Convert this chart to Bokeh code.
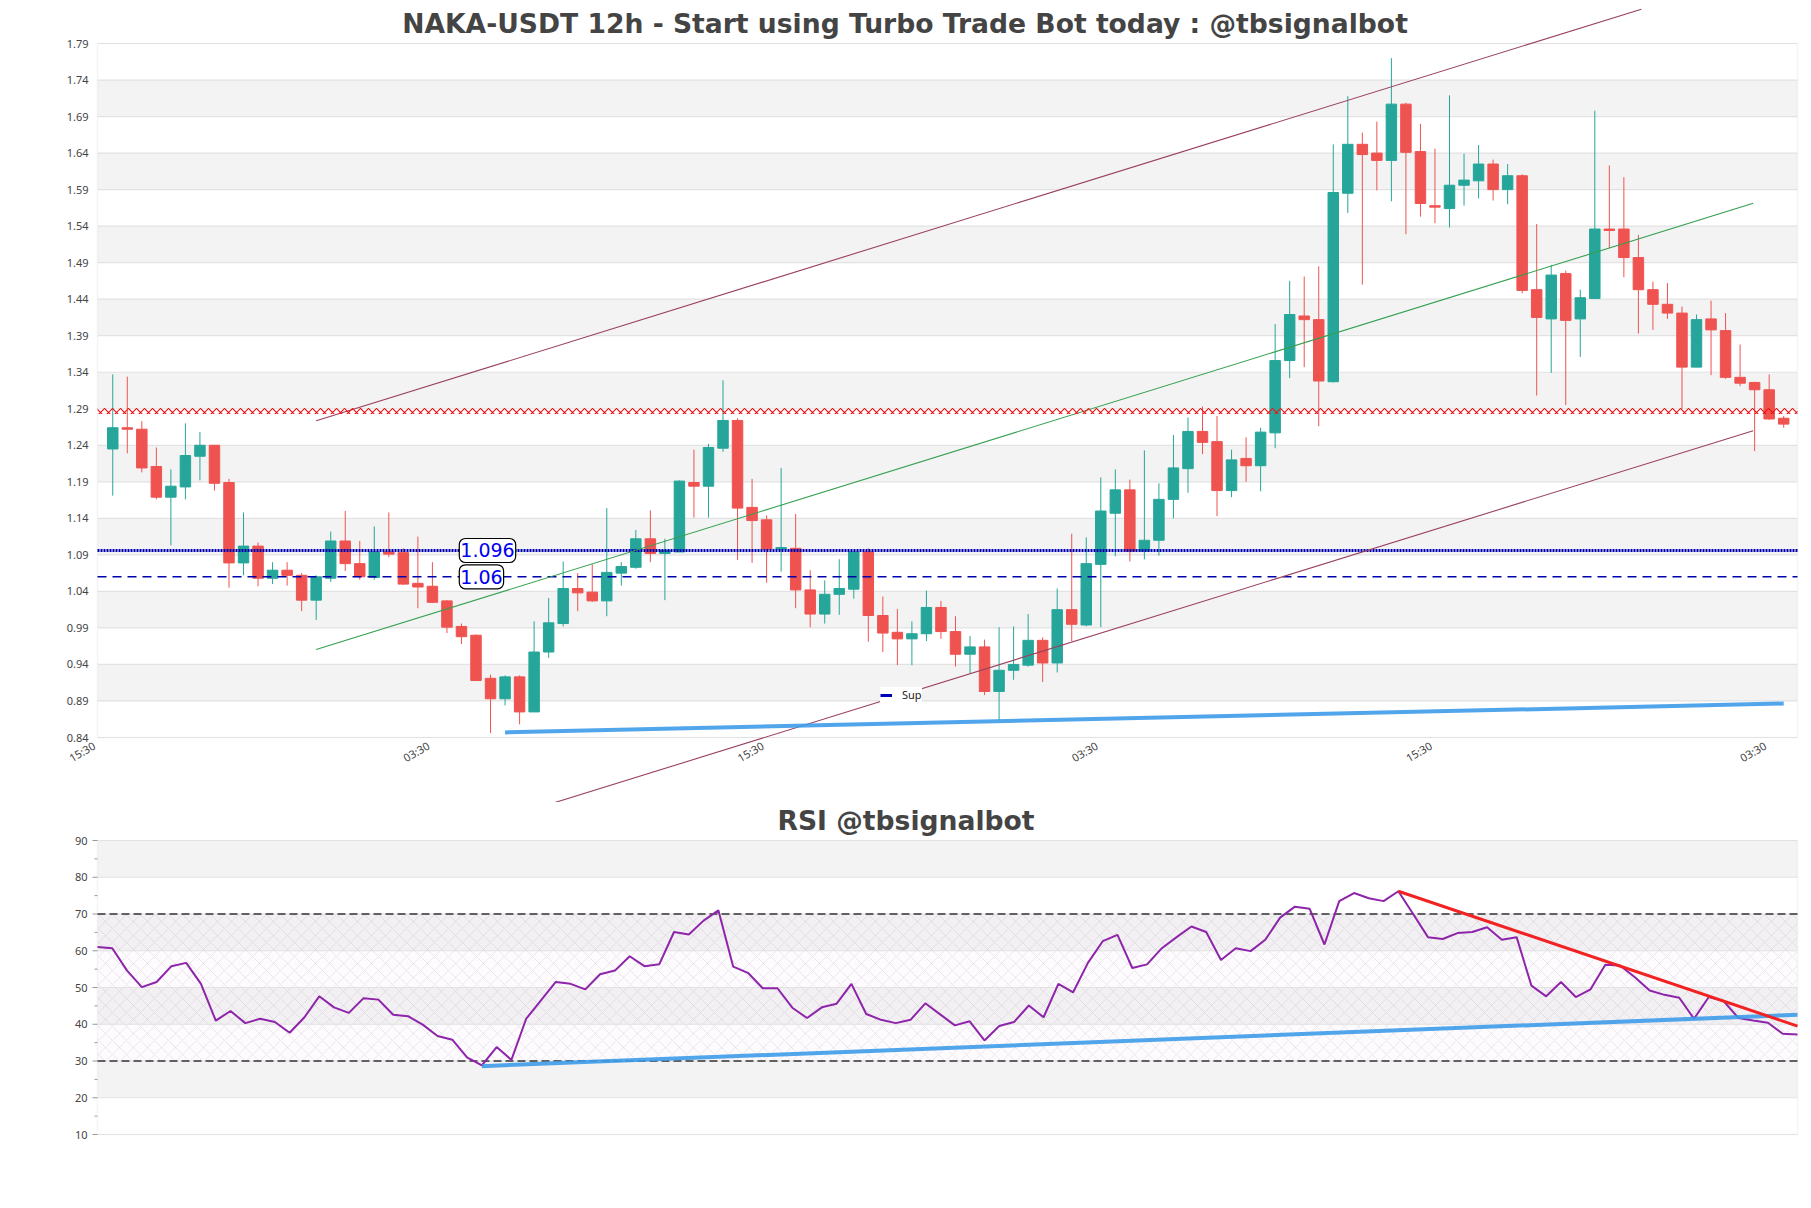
import math
from bokeh.plotting import figure
from bokeh.layouts import column
from bokeh.models import (ColumnDataSource, BoxAnnotation, Label, Legend, LegendItem, Range1d)
from bokeh.embed import file_html
from bokeh.resources import INLINE

# ---------------- data ----------------
opens = [1.235, 1.264, 1.262, 1.211, 1.169, 1.183, 1.225, 1.240, 1.189, 1.079,
         1.102, 1.058, 1.069, 1.062, 1.028, 1.058, 1.109, 1.078, 1.059, 1.094,
         1.093, 1.051, 1.047, 1.027, 0.992, 0.980, 0.921, 0.893, 0.923, 0.875,
         0.957, 0.996, 1.044, 1.039, 1.027, 1.065, 1.073, 1.112, 1.092, 1.094,
         1.189, 1.184, 1.236, 1.274, 1.155, 1.138, 1.098, 1.099, 1.042, 1.009,
         1.036, 1.043, 1.094, 1.007, 0.984, 0.975, 0.982, 1.018, 0.985, 0.954,
         0.964, 0.903, 0.932, 0.939, 0.973, 0.942, 1.015, 0.994, 1.077, 1.147,
         1.179, 1.095, 1.110, 1.166, 1.208, 1.259, 1.245, 1.178, 1.222, 1.212,
         1.257, 1.356, 1.417, 1.412, 1.327, 1.585, 1.652, 1.640, 1.630, 1.707,
         1.642, 1.568, 1.564, 1.596, 1.602, 1.625, 1.590, 1.609, 1.453, 1.413,
         1.475, 1.413, 1.441, 1.536, 1.536, 1.497, 1.453, 1.433, 1.421, 1.347,
         1.413, 1.397, 1.333, 1.326, 1.316, 1.277]
highs = [1.337, 1.334, 1.273, 1.237, 1.207, 1.270, 1.258, 1.240, 1.194, 1.148,
         1.107, 1.080, 1.080, 1.065, 1.062, 1.122, 1.150, 1.109, 1.129, 1.148,
         1.099, 1.115, 1.080, 1.028, 0.996, 0.981, 0.926, 0.925, 0.925, 0.999,
         1.031, 1.081, 1.065, 1.077, 1.154, 1.080, 1.124, 1.151, 1.112, 1.192,
         1.234, 1.242, 1.329, 1.277, 1.194, 1.144, 1.209, 1.146, 1.069, 1.055,
         1.084, 1.094, 1.099, 1.033, 1.016, 0.999, 1.041, 1.027, 1.006, 0.979,
         0.974, 0.991, 0.992, 1.009, 0.977, 1.044, 1.119, 1.114, 1.196, 1.207,
         1.193, 1.233, 1.188, 1.254, 1.278, 1.293, 1.280, 1.234, 1.251, 1.264,
         1.406, 1.465, 1.471, 1.485, 1.652, 1.718, 1.668, 1.683, 1.770, 1.709,
         1.680, 1.646, 1.719, 1.639, 1.651, 1.631, 1.625, 1.611, 1.543, 1.487,
         1.479, 1.453, 1.698, 1.623, 1.607, 1.528, 1.464, 1.462, 1.430, 1.419,
         1.438, 1.421, 1.378, 1.327, 1.337, 1.280]
lows = [1.171, 1.229, 1.203, 1.166, 1.103, 1.166, 1.192, 1.178, 1.045, 1.062,
        1.047, 1.050, 1.048, 1.013, 1.001, 1.053, 1.068, 1.056, 1.056, 1.087,
        1.049, 1.017, 1.024, 0.983, 0.968, 0.918, 0.846, 0.884, 0.858, 0.875,
        0.949, 0.992, 1.013, 1.026, 1.006, 1.048, 1.071, 1.080, 1.028, 1.094,
        1.141, 1.141, 1.231, 1.083, 1.079, 1.052, 1.067, 1.017, 0.991, 0.996,
        1.008, 1.030, 0.971, 0.957, 0.939, 0.939, 0.972, 0.975, 0.937, 0.928,
        0.898, 0.864, 0.919, 0.937, 0.916, 0.929, 0.972, 0.992, 0.991, 1.088,
        1.081, 1.084, 1.089, 1.140, 1.175, 1.228, 1.143, 1.169, 1.190, 1.177,
        1.236, 1.332, 1.347, 1.266, 1.326, 1.558, 1.460, 1.589, 1.574, 1.529,
        1.553, 1.544, 1.538, 1.568, 1.578, 1.575, 1.570, 1.448, 1.308, 1.339,
        1.295, 1.361, 1.440, 1.510, 1.470, 1.393, 1.398, 1.413, 1.290, 1.347,
        1.336, 1.331, 1.321, 1.232, 1.275, 1.264]
closes = [1.264, 1.262, 1.209, 1.169, 1.184, 1.226, 1.240, 1.188, 1.079, 1.102,
          1.058, 1.069, 1.062, 1.028, 1.060, 1.109, 1.078, 1.060, 1.094, 1.091,
          1.050, 1.046, 1.025, 0.991, 0.978, 0.918, 0.893, 0.923, 0.875, 0.957,
          0.997, 1.044, 1.038, 1.027, 1.066, 1.074, 1.112, 1.092, 1.096, 1.191,
          1.184, 1.237, 1.274, 1.154, 1.137, 1.098, 1.100, 1.042, 1.009, 1.036,
          1.044, 1.094, 1.007, 0.983, 0.975, 0.982, 1.018, 0.985, 0.954, 0.964,
          0.903, 0.932, 0.940, 0.973, 0.942, 1.015, 0.995, 1.078, 1.150, 1.179,
          1.095, 1.110, 1.166, 1.209, 1.259, 1.244, 1.178, 1.220, 1.212, 1.258,
          1.356, 1.419, 1.412, 1.328, 1.586, 1.652, 1.638, 1.630, 1.707, 1.641,
          1.571, 1.566, 1.596, 1.603, 1.625, 1.590, 1.609, 1.452, 1.415, 1.473,
          1.411, 1.442, 1.536, 1.534, 1.497, 1.453, 1.433, 1.421, 1.347, 1.412,
          1.398, 1.333, 1.325, 1.316, 1.276, 1.269]

rsi = [61.0, 60.7, 54.6, 50.1, 51.5, 55.8, 56.7, 51.0, 41.0, 43.6,
       40.3, 41.5, 40.6, 37.7, 41.9, 47.6, 44.6, 43.1, 47.1, 46.7,
       42.6, 42.2, 39.9, 36.8, 35.8, 31.0, 28.8, 33.8, 30.3, 41.5,
       46.5, 51.5, 51.0, 49.5, 53.6, 54.6, 58.5, 55.8, 56.3, 65.1,
       64.4, 68.2, 71.0, 55.7, 54.0, 49.8, 49.8, 44.5, 41.7, 44.6,
       45.6, 51.0, 42.8, 41.2, 40.3, 41.2, 45.7, 42.7, 39.7, 40.8,
       35.6, 39.5, 40.6, 45.1, 41.9, 51.0, 48.7, 56.7, 62.6, 64.3,
       55.3, 56.3, 60.7, 63.7, 66.6, 65.1, 57.5, 60.7, 59.9, 63.0,
       69.0, 72.0, 71.4, 61.7, 73.5, 75.7, 74.3, 73.5, 76.2, 70.0,
       63.7, 63.2, 64.8, 65.1, 66.4, 63.0, 63.7, 50.5, 47.6, 51.5,
       47.4, 49.5, 56.2, 56.0, 52.8, 49.2, 48.0, 47.2, 41.5, 47.4,
       46.3, 41.7, 41.0, 40.4, 37.4, 37.2]

time_ticks = [-1, 22, 45, 68, 91, 114]
time_labels = ["15:30", "03:30", "15:30", "03:30", "15:30", "03:30"]
price_ticks = [0.84, 0.89, 0.94, 0.99, 1.04, 1.09, 1.14, 1.19, 1.24, 1.29,
               1.34, 1.39, 1.44, 1.49, 1.54, 1.59, 1.64, 1.69, 1.74, 1.79]
price_labels = ["%.2f" % t for t in price_ticks]
rsi_ticks = [10, 20, 30, 40, 50, 60, 70, 80, 90]
rsi_labels = [str(t) for t in rsi_ticks]
rsi_minor_ticks = [15, 25, 35, 45, 55, 65, 75, 85]

resistance_level = 1.287
support_levels = [1.096, 1.06]
support_labels = ["1.096", "1.06"]

channel_upper_x = [14.0, 105.2]
channel_upper_y = [1.2735, 1.837]
channel_mid_x = [14.0, 112.9]
channel_mid_y = [0.9604, 1.5712]
channel_lower_x = [30.06, 112.9]
channel_lower_y = [0.7487, 1.26]
sup_line_x = [27, 115]
sup_line_y = [0.847, 0.8865]

rsi_sup_x = [26, 115]
rsi_sup_y = [28.6, 42.6]
rsi_res_x = [88, 115]
rsi_res_y = [76.2, 39.5]
rsi_levels = [70, 30]

main_title = "NAKA-USDT 12h - Start using Turbo Trade Bot today : @tbsignalbot"
rsi_title = "RSI @tbsignalbot"

# ---------------- layout / styles ----------------
GREEN = "#26a69a"
RED = "#ef5350"
BAND = "#f3f3f3"
GRID = "#e2e2e2"
BORDER = "#dddddd"
TXT = "#444444"
TITLE_FONT = "DejaVu Sans"
TICK_FONT = "Noto Sans"

# Each figure's frame covers its whole canvas; the visible panels are drawn inside it,
# so lines and labels can run past the panel boxes as in the original.
FIG_W, PANEL_L, PANEL_R = 1803, 97, 1797
MAIN_H = 802
PANEL_TOP, PANEL_BOTTOM = 43, 737          # price panel rows (canvas px)
X_START, X_END = -1.05, 115.95             # visible candle range
XPX = (PANEL_R - PANEL_L) / (X_END - X_START)
YPX = (PANEL_BOTTOM - PANEL_TOP) / (price_ticks[-1] - price_ticks[0])

RSI_H = 388
RSI_TOP, RSI_BOTTOM = 38, 332              # rsi panel rows (canvas px)
n = len(opens)
R_X0, R_X1 = 0, n - 1
RXPX = (PANEL_R - PANEL_L) / (R_X1 - R_X0)
RYPX = (RSI_BOTTOM - RSI_TOP) / (rsi_ticks[-1] - rsi_ticks[0])


def x_at(px):
    return X_START + (px - PANEL_L) / XPX


def y_at(py):
    return price_ticks[-1] + (PANEL_TOP - py) / YPX


def rx_at(px):
    return R_X0 + (px - PANEL_L) / RXPX


def ry_at(py):
    return rsi_ticks[-1] + (RSI_TOP - py) / RYPX


idx = list(range(n))
colors = [GREEN if c >= o else RED for o, c in zip(opens, closes)]
src = ColumnDataSource(dict(
    x=idx, high=highs, low=lows,
    top=[max(o, c) for o, c in zip(opens, closes)],
    bottom=[min(o, c) for o, c in zip(opens, closes)],
    color=colors))


def bare_figure(h, xr, yr):
    f = figure(width=FIG_W, height=h, output_backend="svg", toolbar_location=None,
               title=None, x_axis_location=None, y_axis_location=None,
               x_range=xr, y_range=yr, min_border_left=0, min_border_right=0,
               min_border_top=0, min_border_bottom=0)
    f.outline_line_color = None
    f.background_fill_color = "white"
    f.border_fill_color = "white"
    f.xgrid.grid_line_color = None
    f.ygrid.grid_line_color = None
    return f


# ======================= price panel =======================
p = bare_figure(MAIN_H, Range1d(x_at(0), x_at(FIG_W)), Range1d(y_at(MAIN_H), y_at(0)))

for lo, hi in zip(price_ticks[1::2], price_ticks[2::2]):
    p.add_layout(BoxAnnotation(left=X_START, right=X_END, bottom=lo, top=hi,
                               fill_color=BAND, fill_alpha=1, line_color=None,
                               level="underlay"))
p.add_layout(BoxAnnotation(left=X_START, right=X_END, bottom=price_ticks[0],
                           top=price_ticks[-1], fill_alpha=0, line_color=BORDER,
                           line_width=1.5, level="underlay"))
p.segment(x0=[X_START] * len(price_ticks), x1=[X_END] * len(price_ticks),
          y0=price_ticks, y1=price_ticks, line_color=GRID, line_width=1.2)

p.text(x=[X_START] * len(price_ticks), y=price_ticks, text=price_labels,
       text_align="right", text_baseline="middle", x_offset=-9,
       text_font_size="11px", text_color=TXT, text_font={"value": TICK_FONT})
p.text(x=time_ticks, y=[price_ticks[0]] * len(time_ticks), text=time_labels,
       angle=math.pi / 6, text_align="right", text_baseline="middle",
       x_offset=-4, y_offset=7, text_font_size="11px", text_color=TXT,
       text_font={"value": TICK_FONT})

p.add_layout(Label(x=x_at(904.5), y=y_at(23), text=main_title, text_align="center",
                   text_baseline="middle", text_font=TITLE_FONT, text_font_style="bold",
                   text_font_size="26.6px", text_color=TXT))

# candles
p.segment(x0="x", y0="low", x1="x", y1="high", line_color="color", line_width=1, source=src)
p.vbar(x="x", width=0.72, top="top", bottom="bottom", fill_color="color",
       line_color="color", line_width=1, source=src)

# resistance band (hatched)
p.add_layout(BoxAnnotation(left=X_START, right=X_END,
                           bottom=resistance_level - 0.004, top=resistance_level + 0.004,
                           fill_alpha=0, line_color=None, hatch_pattern="diagonal_cross",
                           hatch_color="#ee1111", hatch_scale=8, hatch_weight=1.1))

# support levels
p.segment(x0=[X_START], x1=[X_END], y0=support_levels[:1], y1=support_levels[:1],
          line_color="#0000b0", line_width=3, line_dash="2 1")
p.segment(x0=[X_START], x1=[X_END], y0=support_levels[1:], y1=support_levels[1:],
          line_color="#0000aa", line_width=1.5, line_dash="9 6")
for lv, lab in zip(support_levels, support_labels):
    p.add_layout(Label(x=23.85, y=lv, text=lab, text_color="#0000ee", text_font="DejaVu Sans",
                       text_font_size="19px", text_baseline="middle", text_align="left",
                       background_fill_color="white", border_line_color="black",
                       border_line_width=1.2, border_radius=6, padding=(1, 5)))

# channel lines
p.line(channel_upper_x, channel_upper_y, line_color="#9a4060", line_width=1.1)
p.line(channel_mid_x, channel_mid_y, line_color="#35a050", line_width=1.1)
p.line(channel_lower_x, channel_lower_y, line_color="#9a4060", line_width=1.1)

# support trend line
p.line(sup_line_x, sup_line_y, line_color="#3d9be9", line_width=4, line_alpha=0.9)

legend_r = p.line(x=sup_line_x[:1], y=sup_line_y[:1], line_color="#0000bb", line_width=3)
legend = Legend(items=[LegendItem(label="Sup", renderers=[legend_r])],
                location=(880, MAIN_H - 702), margin=0, padding=3, glyph_width=12,
                glyph_height=12, label_height=12, label_standoff=10,
                label_text_font=TICK_FONT, label_text_font_size="11px",
                label_text_color="#222222", background_fill_color="white",
                background_fill_alpha=1, border_line_color=None)
p.add_layout(legend)

# ======================= RSI panel =======================
p2 = bare_figure(RSI_H, Range1d(rx_at(0), rx_at(FIG_W)), Range1d(ry_at(RSI_H), ry_at(0)))

for lo, hi in zip(rsi_ticks[1::2], rsi_ticks[2::2]):
    p2.add_layout(BoxAnnotation(left=R_X0, right=R_X1, bottom=lo, top=hi, fill_color=BAND,
                                fill_alpha=1, line_color=None, level="underlay"))
p2.add_layout(BoxAnnotation(left=R_X0, right=R_X1, bottom=rsi_levels[1], top=rsi_levels[0],
                            fill_color="#ead6ee", fill_alpha=0.10, line_color=None,
                            hatch_pattern="diagonal_cross", hatch_color="#a898ac",
                            hatch_alpha=0.35, hatch_scale=14, hatch_weight=0.6,
                            level="underlay"))
p2.add_layout(BoxAnnotation(left=R_X0, right=R_X1, bottom=rsi_ticks[0], top=rsi_ticks[-1],
                            fill_alpha=0, line_color=BORDER, line_width=1.5, level="underlay"))
p2.segment(x0=[R_X0] * len(rsi_ticks), x1=[R_X1] * len(rsi_ticks),
           y0=rsi_ticks, y1=rsi_ticks, line_color=GRID, line_width=1.2)
# axis ticks and labels
p2.segment(x0=[rx_at(PANEL_L - 5)] * len(rsi_ticks), x1=[R_X0] * len(rsi_ticks),
           y0=rsi_ticks, y1=rsi_ticks, line_color="#999999", line_width=1)
p2.segment(x0=[rx_at(PANEL_L - 3)] * len(rsi_minor_ticks), x1=[R_X0] * len(rsi_minor_ticks),
           y0=rsi_minor_ticks, y1=rsi_minor_ticks, line_color="#999999", line_width=1)
p2.text(x=[R_X0] * len(rsi_ticks), y=rsi_ticks, text=rsi_labels, text_align="right",
        text_baseline="middle", x_offset=-10, text_font_size="11px", text_color=TXT,
        text_font={"value": TICK_FONT})

p2.add_layout(Label(x=rx_at(905.5), y=ry_at(18), text=rsi_title, text_align="center",
                    text_baseline="middle", text_font=TITLE_FONT, text_font_style="bold",
                    text_font_size="26.6px", text_color=TXT))

for lv in rsi_levels:
    p2.segment(x0=[R_X0], x1=[R_X1], y0=[lv], y1=[lv], line_color="#333333",
               line_width=1.3, line_dash="8 4")

p2.line(idx, rsi, line_color="#8e24aa", line_width=2)
p2.line(rsi_sup_x, rsi_sup_y, line_color="#3d9be9", line_width=4, line_alpha=0.9)
p2.line(rsi_res_x, rsi_res_y, line_color="#f22222", line_width=3)

layout = column(p, p2, spacing=0)
open("out.html", "w").write(file_html(layout, INLINE))
